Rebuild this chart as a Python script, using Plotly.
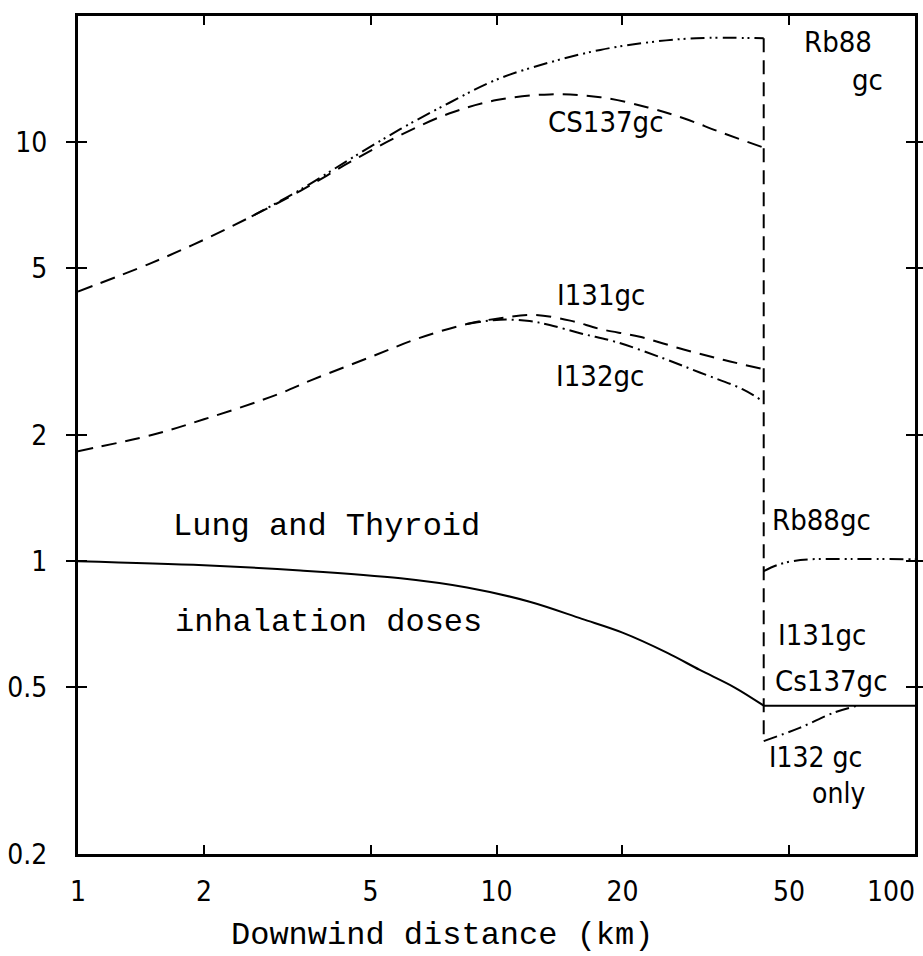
import math
import plotly.graph_objects as go

# ---------------- data ----------------
X_BREAK = 43.5  # km, where the near-field curves stop

# near field (x < X_BREAK)
cs137_x = [1, 1.5, 2, 2.6, 3.4, 4.5, 5.9, 7.7, 10, 13.4, 17.7, 23, 28, 34, 43.5]
cs137_y = [4.4, 5.15, 5.85, 6.65, 7.65, 9.0, 10.4, 11.7, 12.6, 13.0, 12.8, 12.1, 11.4, 10.6, 9.7]

rb88_x = [2.6, 3.4, 4.5, 5.9, 7.7, 10, 13.4, 17.7, 23, 30, 43.5]
rb88_y = [6.65, 7.7, 9.15, 10.75, 12.4, 14.1, 15.5, 16.6, 17.3, 17.7, 17.7]

i131_x = [1, 1.5, 2, 3, 3.6, 5, 6.5, 8.5, 10.2, 12.2, 15, 17.7, 22, 28, 35, 43.5]
i131_y = [1.83, 2.0, 2.18, 2.5, 2.7, 3.07, 3.4, 3.68, 3.8, 3.87, 3.75, 3.58, 3.43, 3.2, 3.02, 2.87]

i132_x = [8.5, 10.2, 12, 13.4, 16, 19.4, 25, 30.6, 38.8, 43.5]
i132_y = [3.68, 3.77, 3.74, 3.66, 3.49, 3.33, 3.05, 2.82, 2.57, 2.40]

lung_x = [1, 2, 3.4, 5.9, 8.5, 12, 16, 20, 25.6, 30.6, 37, 43.5]
lung_y = [1.0, 0.978, 0.95, 0.91, 0.865, 0.80, 0.728, 0.675, 0.604, 0.55, 0.50, 0.452]

# far field (x > X_BREAK)
far_i131_cs137_x = [43.5, 100]
far_i131_cs137_y = [0.452, 0.452]

far_i132_x = [43.5, 53, 64, 73]
far_i132_y = [0.372, 0.40, 0.435, 0.452]

far_rb88_x = [43.5, 47, 51, 56, 70, 100]
far_rb88_y = [0.947, 0.98, 1.0, 1.01, 1.012, 1.01]

x_tick_vals = [1, 2, 5, 10, 20, 50, 100]
x_tick_text = ["1", "2", "5", "10", "20", "50", "100"]
y_tick_vals = [0.2, 0.5, 1, 2, 5, 10]
y_tick_text = ["0.2", "0.5", "1", "2", "5", "10"]

# ---------------- styles ----------------
NARROW = "Liberation Sans Narrow, DejaVu Sans Condensed, Arial Narrow, sans-serif"
MONO = "Liberation Mono, Courier New, DejaVu Sans Mono, monospace"
DASH = "15px,9px"
DASHDOT = "14px,5px,2px,5px"
DASHDOTDOT = "14px,5px,2px,4px,2px,5px"
LW = 2

fig = go.Figure()


def add(x, y, dash, xaxis="x"):
    fig.add_trace(go.Scatter(
        x=x, y=y, mode="lines", xaxis=xaxis, yaxis="y",
        line=dict(color="black", width=LW, dash=dash, shape="spline", smoothing=1.0),
        hoverinfo="skip", showlegend=False, cliponaxis=True))


add(cs137_x, cs137_y, DASH)
add(rb88_x, rb88_y, DASHDOTDOT)
add(i131_x, i131_y, DASH)
add(i132_x, i132_y, DASHDOT)
add(lung_x, lung_y, "solid")
# x2 is an identical overlay of x (same range), used only to place the "100" label
add(far_i131_cs137_x, far_i131_cs137_y, "solid", xaxis="x2")
add(far_i132_x, far_i132_y, DASHDOT)
add(far_rb88_x, far_rb88_y, DASHDOTDOT)

# vertical dashed break line spanning from the highest near value to the lowest far value
v_top = max(rb88_y[-1], cs137_y[-1])
v_bot = min(far_i132_y[0], far_rb88_y[0], far_i131_cs137_y[0])
fig.add_trace(go.Scatter(
    x=[X_BREAK, X_BREAK], y=[v_top, v_bot], mode="lines",
    line=dict(color="black", width=LW, dash="14px,8px"),
    hoverinfo="skip", showlegend=False))

# ---------------- layout ----------------
L, R, T, B = 78, 8, 16, 102
W, H = 923, 956
PW, PH = W - L - R, H - T - B


def px(xp, yp):
    return (xp - L) / PW, (H - B - yp) / PH


labels = [
    ("Rb88", 838, 42, NARROW, 29),
    ("gc", 867, 80, NARROW, 29),
    ("CS137gc", 606, 122, NARROW, 29),
    ("I131gc", 601, 295, NARROW, 29),
    ("I132gc", 600, 376, NARROW, 29),
    ("Rb88gc", 821, 520, NARROW, 29),
    ("I131gc", 822, 635, NARROW, 29),
    ("Cs137gc", 831, 681, NARROW, 29),
    ("I132 gc", 815, 757, NARROW, 28),
    ("only", 838, 793, NARROW, 28),
    ("Lung and Thyroid", 326, 526, MONO, 32),
    ("inhalation doses", 328, 622, MONO, 32),
    ("Downwind distance (km)", 442, 935, MONO, 32),
]
annotations = []
for text, xp, yp, fam, size in labels:
    ax, ay = px(xp, yp)
    annotations.append(dict(
        text=text, x=ax, y=ay, xref="paper", yref="paper",
        xanchor="center", yanchor="middle", showarrow=False,
        font=dict(family=fam, size=size, color="black")))

TICKFONT = dict(family=NARROW, size=28, color="black")
axis_common = dict(
    type="log", showgrid=False, zeroline=False, automargin=False,
    showline=True, linewidth=3, linecolor="black", mirror="allticks",
    ticks="inside", ticklen=9, tickwidth=2, tickcolor="black",
    tickfont=TICKFONT,
)

X_RANGE = [-1e-6, 2 + 1e-6]
# all x labels centred on their ticks except the last, which sits left of the frame edge
main_x_text = [t if v != x_tick_vals[-1] else "" for v, t in zip(x_tick_vals, x_tick_text)]

fig.update_layout(
    width=W, height=H,
    margin=dict(l=L, r=R, t=T, b=B, pad=0, autoexpand=False),
    paper_bgcolor="white", plot_bgcolor="white",
    showlegend=False,
    xaxis=dict(range=X_RANGE, tickvals=x_tick_vals, ticktext=main_x_text,
               ticklabelstandoff=10, ticklabeloverflow="allow", **axis_common),
    xaxis2=dict(type="log", range=X_RANGE, overlaying="x", anchor="y", side="bottom",
                tickvals=x_tick_vals[-1:], ticktext=x_tick_text[-1:],
                ticklabelposition="outside left", ticks="", showline=False,
                showgrid=False, zeroline=False, automargin=False,
                ticklabelstandoff=18, ticklabeloverflow="allow", tickfont=TICKFONT),
    yaxis=dict(range=[math.log10(0.2) - 1e-6, math.log10(20)], tickvals=y_tick_vals,
               ticktext=y_tick_text, ticklabelstandoff=22, ticklabeloverflow="allow",
               **axis_common),
    annotations=annotations,
)

fig.write_html("out.html")
